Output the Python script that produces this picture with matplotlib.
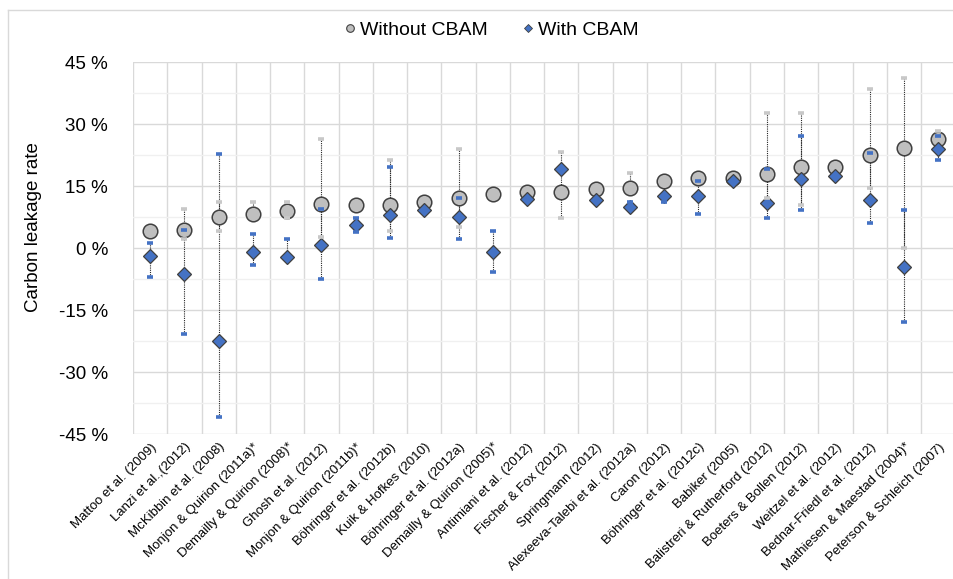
import numpy as np
import matplotlib
matplotlib.use("Agg")
import matplotlib.pyplot as plt
from matplotlib.lines import Line2D

plt.rcParams['font.family'] = ['Liberation Sans', 'DejaVu Sans']

nan = np.nan

studies = [
    "Mattoo et al. (2009)", "Lanzi et al.,(2012)", "McKibbin et al. (2008)",
    "Monjon & Quirion (2011a)*", "Demailly & Quirion (2008)*", "Ghosh et al. (2012)",
    "Monjon & Quirion (2011b)*", "Böhringer et al. (2012b)", "Kuik & Hofkes (2010)",
    "Böhringer et al. (2012a)", "Demailly & Quirion (2005)*", "Antimiani et al. (2012)",
    "Fischer & Fox (2012)", "Springmann (2012)", "Alexeeva-Talebi et al. (2012a)",
    "Caron (2012)", "Böhringer et al. (2012c)", "Babiker (2005)",
    "Balistreri & Rutherford (2012)", "Boeters & Bollen (2012)", "Weitzel et al. (2012)",
    "Bednar-Friedl et al. (2012)", "Mathiesen & Maestad (2004)*", "Peterson & Schleich (2007)",
]

# Without CBAM: central estimate and range
without_val = [4.0, 4.4, 7.6, 8.2, 9.0, 10.6, 10.4, 10.4, 11.1, 12.2, 13.1, 13.5,
               13.5, 14.2, 14.6, 16.1, 17.0, 17.0, 17.8, 19.7, 19.7, 22.6, 24.3, 26.3]
without_lo = [nan, 2.1, 4.0, nan, 7.2, 2.7, nan, 4.0, nan, 5.2, nan, nan,
              7.2, nan, nan, nan, nan, nan, 12.2, 10.3, nan, 14.4, 0.0, nan]
without_hi = [nan, 9.4, 11.1, 11.1, 11.1, 26.4, nan, 21.2, nan, 24.0, nan, nan,
              23.2, nan, 18.1, nan, nan, nan, 32.6, 32.6, nan, 38.5, 41.1, 28.2]

# With CBAM: central estimate and range
with_val = [-1.9, -6.3, -22.5, -1.0, -2.1, 0.8, 5.6, 8.0, 9.1, 7.6, -1.0, 11.9,
            19.0, 11.5, 10.0, 12.7, 12.7, 16.1, 10.8, 16.6, 17.4, 11.6, -4.5, 24.0]
with_lo = [-6.9, -20.9, -40.8, -4.0, nan, -7.6, 3.8, 2.5, nan, 2.1, -5.8, nan,
           nan, nan, nan, 11.1, 8.2, nan, 7.2, 9.1, nan, 6.1, -17.8, 21.2]
with_hi = [1.2, 4.3, 22.7, 3.4, 2.1, 9.5, 7.2, 19.6, nan, 12.2, 4.0, nan,
           nan, nan, 11.1, nan, 16.2, nan, 19.2, 27.0, nan, 23.1, 9.1, 27.0]

GREY = "#BFBFBF"
BLUE = "#4472C4"
EDGE = "#404040"
GRID = "#D9D9D9"

fig = plt.figure(figsize=(9.54, 5.79), dpi=100)
ax = fig.add_axes([0.1394, 0.2504, 0.862, 0.6425])

x = np.arange(len(studies))


def draw_range(vals, lo, hi, cap_color):
    vals = np.array(vals)
    lo = np.array(lo)
    hi = np.array(hi)
    bottom = np.where(np.isnan(lo), vals, lo)
    top = np.where(np.isnan(hi), vals, hi)
    ax.vlines(x, bottom, top, colors="#262626", linestyles=(0, (1, 1)),
              linewidth=0.8, zorder=2)
    for arr in (lo, hi):
        ok = ~np.isnan(arr)
        ax.plot(x[ok], arr[ok], ls="none", marker="_", markersize=5,
                mew=2.6, color=cap_color, zorder=6)


draw_range(without_val, without_lo, without_hi, "#C8C8C8")
draw_range(with_val, with_lo, with_hi, BLUE)

ax.plot(x, without_val, ls="none", marker="o", markersize=10.5,
        mfc=GREY, mec=EDGE, mew=1.1, zorder=4, label="Without CBAM")
ax.plot(x, with_val, ls="none", marker="D", markersize=7.2,
        mfc=BLUE, mec=EDGE, mew=0.9, zorder=5, label="With CBAM")

ax.set_xlim(-0.5, len(studies) - 0.5)
ax.set_ylim(-45, 45)
ax.set_yticks(np.arange(-45, 46, 15))
ax.set_yticklabels([f"{v} %" for v in range(-45, 46, 15)], fontsize=13.5)
ax.set_yticks(np.arange(-37.5, 45, 15), minor=True)

ax.set_xticks(x)
ax.set_xticklabels(studies, rotation=45, ha="right", rotation_mode="anchor",
                   fontsize=9.5)
ax.set_xticks(np.arange(-0.5, len(studies), 1), minor=True)

ax.tick_params(axis="both", which="both", length=0)
ax.tick_params(axis="y", pad=18)
ax.tick_params(axis="x", pad=5)
ax.grid(True, which="major", axis="y", color=GRID, linewidth=1.0, zorder=0)
ax.grid(True, which="minor", axis="y", color="#F0F0F0", linewidth=1.0, zorder=0)
ax.grid(True, which="minor", axis="x", color=GRID, linewidth=1.0, zorder=0)
ax.set_axisbelow(True)
for s in ax.spines.values():
    s.set_visible(False)

ax.set_ylabel("Carbon leakage rate", fontsize=13.5)
ax.yaxis.set_label_coords(-0.111, 0.556)

handles = [
    Line2D([], [], ls="none", marker="o", markersize=5.5, mfc=GREY, mec=EDGE, mew=0.8),
    Line2D([], [], ls="none", marker="D", markersize=4.2, mfc=BLUE, mec=EDGE, mew=0.6),
]
fig.legend(handles, ["Without CBAM", "With CBAM"], loc="center",
           bbox_to_anchor=(0.513, 0.948), ncol=2, frameon=False, fontsize=14,
           handletextpad=0.0, columnspacing=1.6, handlelength=1.0)

# outer chart frame (partly cropped)
fig.add_artist(Line2D([0.0084, 0.0084], [0.0, 0.983], color=GRID, lw=1.0))
fig.add_artist(Line2D([0.0084, 1.0], [0.983, 0.983], color=GRID, lw=1.0))

fig.savefig("out.png", dpi=100)
